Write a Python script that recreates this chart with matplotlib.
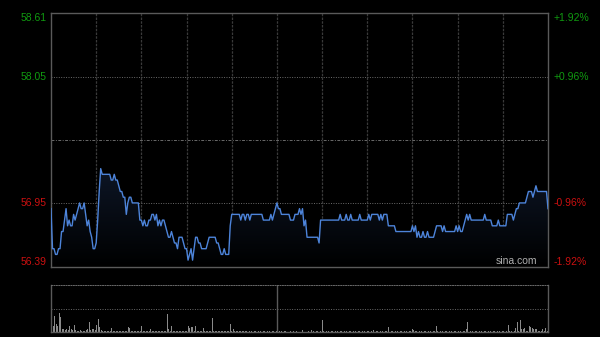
import numpy as np
import matplotlib
matplotlib.use("Agg")
import matplotlib.pyplot as plt
from matplotlib.transforms import blended_transform_factory
from matplotlib.colors import LinearSegmentedColormap

# ---------------- data ----------------
prev_close = 57.50
price_ticks = [58.61, 58.05, 56.95, 56.39]
price_tick_labels = ["58.61", "58.05", "56.95", "56.39"]
pct_tick_labels = ["+1.92%", "+0.96%", "-0.96%", "-1.92%"]
y_limits = (56.39, 58.61)

prices = [
    56.90, 56.55, 56.55, 56.50, 56.50, 56.55, 56.55, 56.70, 56.70, 56.80,
    56.90, 56.75, 56.80, 56.75, 56.75, 56.85, 56.80, 56.85, 56.90, 56.95,
    56.90, 56.90, 56.95, 56.85, 56.75, 56.80, 56.70, 56.65, 56.55, 56.55,
    56.60, 56.80, 57.05, 57.25, 57.20, 57.20, 57.20, 57.20, 57.20, 57.20,
    57.15, 57.15, 57.20, 57.15, 57.15, 57.10, 57.05, 57.05, 57.00, 57.00,
    56.85, 56.95, 57.00, 57.00, 56.95, 56.95, 56.95, 56.95, 56.95, 56.80,
    56.80, 56.75, 56.80, 56.75, 56.75, 56.80, 56.80, 56.85, 56.85, 56.80,
    56.85, 56.75, 56.80, 56.75, 56.80, 56.80, 56.75, 56.70, 56.65, 56.65,
    56.70, 56.65, 56.60, 56.60, 56.55, 56.65, 56.65, 56.65, 56.60, 56.55,
    56.55, 56.45, 56.50, 56.55, 56.45, 56.55, 56.65, 56.65, 56.60, 56.60,
    56.55, 56.55, 56.55, 56.55, 56.60, 56.65, 56.65, 56.65, 56.65, 56.65,
    56.60, 56.60, 56.55, 56.50, 56.50, 56.55, 56.50, 56.50, 56.50, 56.75,
    56.85, 56.85, 56.85, 56.85, 56.85, 56.85, 56.80, 56.85, 56.85, 56.80,
    56.85, 56.85, 56.80, 56.85, 56.85, 56.85, 56.85, 56.85, 56.85, 56.85,
    56.85, 56.80, 56.80, 56.80, 56.80, 56.80, 56.85, 56.80, 56.85, 56.90,
    56.95, 56.90, 56.90, 56.85, 56.85, 56.85, 56.85, 56.85, 56.85, 56.80,
    56.80, 56.80, 56.85, 56.85, 56.85, 56.90, 56.85, 56.90, 56.75, 56.80,
    56.65, 56.65, 56.65, 56.65, 56.65, 56.65, 56.65, 56.65, 56.60, 56.80,
    56.80, 56.80, 56.80, 56.80, 56.80, 56.80, 56.80, 56.80, 56.80, 56.80,
    56.80, 56.80, 56.85, 56.80, 56.80, 56.80, 56.85, 56.80, 56.80, 56.85,
    56.80, 56.80, 56.80, 56.80, 56.80, 56.85, 56.80, 56.80, 56.80, 56.80,
    56.80, 56.85, 56.80, 56.85, 56.85, 56.85, 56.85, 56.85, 56.80, 56.85,
    56.80, 56.85, 56.85, 56.85, 56.75, 56.75, 56.75, 56.75, 56.75, 56.70,
    56.70, 56.70, 56.70, 56.70, 56.70, 56.70, 56.70, 56.70, 56.70, 56.70,
    56.75, 56.70, 56.75, 56.65, 56.70, 56.65, 56.65, 56.70, 56.65, 56.65,
    56.70, 56.65, 56.65, 56.65, 56.65, 56.70, 56.75, 56.75, 56.75, 56.75,
    56.70, 56.75, 56.70, 56.70, 56.70, 56.70, 56.70, 56.70, 56.70, 56.75,
    56.70, 56.75, 56.70, 56.70, 56.75, 56.80, 56.85, 56.80, 56.85, 56.80,
    56.80, 56.80, 56.80, 56.80, 56.80, 56.80, 56.80, 56.80, 56.85, 56.80,
    56.80, 56.80, 56.80, 56.75, 56.75, 56.75, 56.75, 56.80, 56.75, 56.75,
    56.75, 56.75, 56.75, 56.85, 56.85, 56.85, 56.85, 56.80, 56.85, 56.90,
    56.90, 56.95, 56.95, 56.95, 56.95, 56.95, 57.00, 57.05, 57.05, 57.05,
    57.00, 57.05, 57.10, 57.05, 57.05, 57.05, 57.05, 57.05, 57.05, 57.05,
    56.90,
]

volumes = [
    80, 60, 160, 80, 60, 190, 150, 30, 30, 20,
    30, 20, 60, 30, 20, 70, 20, 10, 15, 20,
    10, 15, 10, 20, 30, 100, 20, 30, 30, 20,
    70, 130, 50, 20, 15, 10, 15, 10, 10, 15,
    40, 10, 15, 10, 10, 15, 10, 10, 15, 10,
    10, 50, 40, 10, 15, 10, 10, 15, 10, 10,
    60, 10, 15, 10, 10, 15, 30, 10, 10, 15,
    10, 10, 15, 10, 10, 15, 10, 180, 30, 10,
    60, 15, 10, 10, 15, 10, 10, 15, 10, 10,
    15, 60, 40, 50, 50, 15, 60, 10, 10, 15,
    10, 40, 10, 15, 10, 10, 15, 140, 10, 10,
    15, 10, 10, 15, 10, 10, 15, 10, 10, 80,
    15, 30, 10, 10, 15, 10, 10, 15, 10, 10,
    10, 5, 10, 10, 5, 10, 10, 5, 10, 10,
    5, 10, 10, 5, 10, 10, 5, 10, 10, 5,
    10, 5, 10, 10, 5, 10, 10, 5, 10, 10,
    10, 10, 5, 10, 10, 5, 10, 20, 10, 5,
    10, 10, 5, 20, 10, 5, 10, 10, 5, 10,
    120, 10, 5, 10, 10, 5, 10, 10, 5, 10,
    10, 5, 10, 10, 5, 10, 10, 5, 10, 10,
    5, 10, 10, 5, 10, 10, 5, 10, 10, 5,
    10, 10, 5, 10, 20, 5, 10, 10, 5, 10,
    10, 5, 10, 10, 50, 5, 10, 10, 5, 10,
    10, 5, 10, 10, 5, 10, 10, 5, 10, 10,
    30, 20, 10, 10, 5, 10, 10, 5, 10, 10,
    5, 10, 10, 5, 10, 10, 60, 10, 5, 10,
    10, 5, 10, 10, 5, 10, 10, 5, 10, 10,
    5, 10, 10, 5, 10, 10, 30, 100, 5, 10,
    10, 5, 10, 10, 5, 10, 10, 5, 10, 10,
    5, 10, 10, 5, 10, 10, 5, 10, 10, 5,
    10, 10, 5, 10, 70, 10, 10, 5, 10, 40,
    100, 10, 120, 30, 30, 40, 10, 10, 60, 50,
    40, 30, 30, 30, 10, 10, 10, 30, 10, 40,
    10,
]

# ---------------- figure ----------------
W, H = 600, 337
fig = plt.figure(figsize=(W / 100, H / 100), dpi=100, facecolor="black")
plt.rcParams["font.family"] = ["Liberation Sans", "DejaVu Sans"]

def px_rect(x0, y0, x1, y1):
    return [x0 / W, 1 - y1 / H, (x1 - x0) / W, (y1 - y0) / H]

ax = fig.add_axes(px_rect(51, 13, 548, 267), facecolor="black")
axv = fig.add_axes(px_rect(51, 285, 548, 332), facecolor="black")

n = len(prices)
x = np.arange(n)
p = np.array(prices)

ax.set_xlim(0, n - 1)
ax.set_ylim(*y_limits)

# vertical grid (every 30 minutes)
for k in range(30, n - 1, 30):
    ax.axvline(k, color="#3a3a3a", lw=0.9, ls=(0, (2, 1)), zorder=1)

# horizontal grid
for v in (price_ticks[1], price_ticks[2]):
    ax.axhline(v, color="#6a6a6a", lw=0.7, ls=(0, (1, 1.5)), zorder=1)
ax.axhline(prev_close, color="#6a6a6a", lw=0.7, ls=(0, (3, 1.5, 1, 1.5)), zorder=1)

# gradient fill under the line
poly = ax.fill_between(x, p, y_limits[0], color="none", zorder=2)
grad = np.linspace(1, 0, 256).reshape(-1, 1)
cmap = LinearSegmentedColormap.from_list("g", ["#000000", "#0d1626"])
im = ax.imshow(grad, cmap=cmap, aspect="auto",
               extent=[0, n - 1, y_limits[0], p.max()], origin="upper", zorder=2)
im.set_clip_path(poly.get_paths()[0], transform=ax.transData)

ax.plot(x, p, color="#4d84da", lw=1.0, zorder=3)

for s in ax.spines.values():
    s.set_color("#5a5a5a")
    s.set_linewidth(1.0)
ax.set_xticks([])
ax.set_yticks([])

green = "#109a10"
red = "#cc1010"
trans = blended_transform_factory(ax.transAxes, ax.transData)
for i, (v, lab, pl) in enumerate(zip(price_ticks, price_tick_labels, pct_tick_labels)):
    col = green if v > prev_close else red
    va = "center"
    if i == 0:
        va = "top"
    elif i == len(price_ticks) - 1:
        va = "bottom"
    ax.text(-0.009, v, lab, transform=trans, ha="right", va=va, color=col,
            fontsize=7.5, clip_on=False)
    ax.text(1.011, v, pl, transform=trans, ha="left", va=va, color=col,
            fontsize=7.5, clip_on=False)

ax.text(0.978, 0.025, "sina.com", transform=ax.transAxes, ha="right", va="center",
        color="#b0b0b0", fontsize=7.5, zorder=4)

# ---------------- volume panel ----------------
vmax = 470
axv.set_xlim(-0.5, n - 0.5)
axv.set_ylim(0, vmax)
axv.bar(x, volumes, width=0.65, color="#8a8a8a", linewidth=0, zorder=2)
axv.axhline(vmax / 2, color="#6a6a6a", lw=0.7, ls=(0, (1, 1.5)), zorder=1)
axv.axvline(150, color="#5a5a5a", lw=1.0, zorder=1)
for side in ("left", "right", "bottom"):
    axv.spines[side].set_color("#5a5a5a")
    axv.spines[side].set_linewidth(1.0)
axv.spines["top"].set_color("#6a6a6a")
axv.spines["top"].set_linewidth(0.7)
axv.spines["top"].set_linestyle((0, (1, 1.5)))
axv.set_xticks([])
axv.set_yticks([])

fig.savefig("out.png", dpi=100, facecolor="black")
